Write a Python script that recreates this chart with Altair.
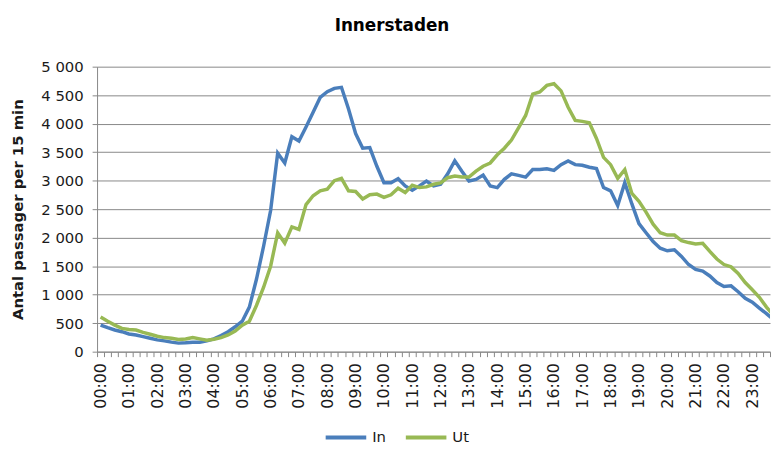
import altair as alt
import pandas as pd

# ---------------- data ----------------
hour_labels = ["00:00", "01:00", "02:00", "03:00", "04:00", "05:00", "06:00", "07:00",
               "08:00", "09:00", "10:00", "11:00", "12:00", "13:00", "14:00", "15:00",
               "16:00", "17:00", "18:00", "19:00", "20:00", "21:00", "22:00", "23:00"]

series_names = ["In", "Ut"]

# passages per 15 minutes, 96 quarter-hours starting 00:00
in_values = [466, 420, 380, 350, 310, 293, 264, 236, 207, 190, 167, 150,
             155, 167, 167, 190, 224, 282, 350, 437, 535, 782, 1270, 1845,
             2477, 3483, 3310, 3770, 3695, 3942, 4200, 4460, 4560, 4620, 4638, 4258,
             3827, 3569, 3580, 3253, 2965, 2965, 3034, 2908, 2833, 2908, 2994, 2908,
             2937, 3121, 3350, 3167, 2994, 3023, 3098, 2908, 2879, 3023, 3121, 3092,
             3063, 3195, 3195, 3207, 3180, 3281, 3345, 3281, 3270, 3236, 3213, 2879,
             2822, 2563, 2965, 2592, 2247, 2086, 1931, 1816, 1770, 1787, 1672, 1529,
             1442, 1414, 1328, 1213, 1144, 1155, 1052, 937, 868, 764, 667, 560]

ut_values = [609, 535, 466, 408, 390, 380, 339, 305, 270, 247, 236, 213,
             224, 247, 224, 201, 218, 247, 293, 362, 466, 535, 810, 1126,
             1500, 2086, 1902, 2190, 2144, 2580, 2736, 2822, 2850, 3000, 3040, 2822,
             2810, 2678, 2753, 2764, 2707, 2753, 2868, 2793, 2919, 2879, 2891, 2937,
             2960, 3052, 3080, 3063, 3063, 3167, 3253, 3310, 3454, 3569, 3713, 3925,
             4144, 4517, 4557, 4672, 4700, 4575, 4287, 4057, 4040, 4017, 3741, 3408,
             3281, 3040, 3195, 2776, 2638, 2448, 2236, 2086, 2046, 2046, 1948, 1914,
             1891, 1902, 1759, 1626, 1529, 1488, 1374, 1213, 1086, 954, 782, 640]

y_ticks = [0, 500, 1000, 1500, 2000, 2500, 3000, 3500, 4000, 4500, 5000]

# ---------------- table ----------------
rows = []
for i, (a, b) in enumerate(zip(in_values, ut_values)):
    rows.append({"idx": i, "serie": series_names[0], "value": a})
    rows.append({"idx": i, "serie": series_names[1], "value": b})
df = pd.DataFrame(rows)

FONT = "DejaVu Sans"
GRID = "#888888"
TEXT = "#1a1a1a"
BLUE = "#4A7EBB"
GREEN = "#98B954"

n = len(in_values)
tick_vals = [k - 0.5 for k in range(n)]
label_arr = "[" + ",".join("'%s'" % h for h in hour_labels) + "]"
x_label_expr = ("(datum.value + 0.5) % 4 == 0 ? " + label_arr +
                "[round((datum.value + 0.5) / 4)] : ''")

x_axis = alt.Axis(
    values=tick_vals, labelExpr=x_label_expr, labelAngle=270,
    labelAlign="right", labelBaseline="middle", labelOffset=3.6,
    labelOverlap=False, labelFlush=False, labelFont=FONT, labelFontSize=16,
    labelColor=TEXT, labelPadding=6, ticks=True, tickSize=5, tickColor=GRID,
    domain=True, domainColor=GRID, grid=False, title=None,
)

y_axis = alt.Axis(
    values=y_ticks, labelExpr="replace(format(datum.value, ','), ',', ' ')",
    labelFont=FONT, labelFontSize=15, labelColor=TEXT, labelPadding=9,
    ticks=True, tickSize=5, tickColor=GRID, domain=True, domainColor=GRID,
    grid=True, gridColor=GRID, gridWidth=1,
    title="Antal passager per 15 min", titleFont=FONT, titleFontSize=15,
    titleFontWeight="bold", titleColor=TEXT, titleAngle=270,
    titleX=-80, titleY=144, titleAlign="center", titleBaseline="middle",
)

chart = alt.Chart(df).mark_line(strokeWidth=3.5, clip=True).encode(
    x=alt.X("idx:Q", scale=alt.Scale(domain=[-0.5, 94.5], nice=False, zero=False), axis=x_axis),
    y=alt.Y("value:Q", scale=alt.Scale(domain=[0, 5000], nice=False), axis=y_axis),
    color=alt.Color(
        "serie:N",
        scale=alt.Scale(domain=series_names, range=[BLUE, GREEN]),
        legend=alt.Legend(
            title=None, orient="none", legendX=229, legendY=352,
            direction="horizontal", symbolType="stroke", symbolSize=1681,
            symbolStrokeWidth=4, labelFont=FONT, labelFontSize=15,
            labelColor=TEXT, columnPadding=12, labelOffset=4,
        ),
    ),
).properties(
    width=680,
    height=288,
    autosize="none",
    padding={"left": 90, "top": 57, "right": 1, "bottom": 90},
    title=alt.TitleParams(
        "Innerstaden", font=FONT, fontSize=17, fontWeight="bold", color="black",
        anchor="middle", dx=-42, offset=25,
    ),
).configure_view(strokeWidth=0)

chart.save("out.html", embed_options={"renderer": "svg", "actions": False})
